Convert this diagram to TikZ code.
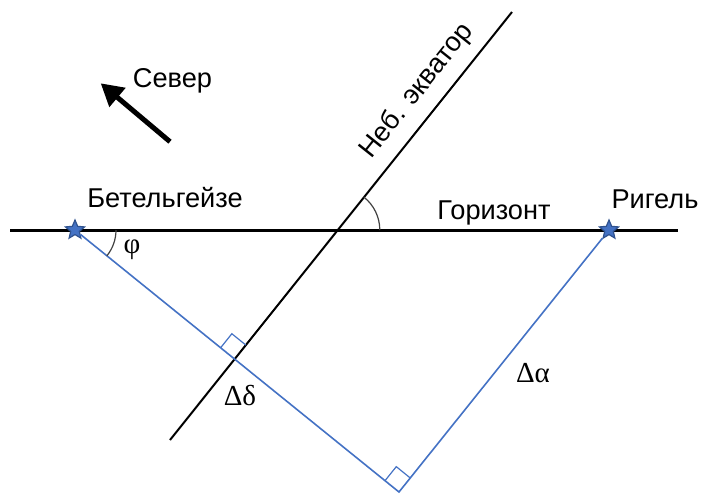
\documentclass[tikz,border=0pt]{standalone}
\usepackage{fontspec}
\setmainfont{Liberation Sans}
\newfontfamily\grk{Liberation Serif}
\usepackage{xcolor}
\usetikzlibrary{arrows.meta, positioning, shapes.geometric, calc}
\definecolor{skyblue}{HTML}{4472C4}
\definecolor{deepblue}{HTML}{2F528F}

\begin{document}
\begin{tikzpicture}[
      x=0.5pt, y=-0.5pt,
      every node/.style={font=\fontsize{13.6}{16}\selectfont, inner sep=0pt},
      starmark/.style={star, star points=5, star point ratio=2.2, minimum size=10pt, fill=skyblue, draw=deepblue, line width=0.6pt},
      sight/.style={draw=skyblue, line width=0.8pt},
      rmark/.style={draw=skyblue, line width=0.6pt},
      anglearc/.style={draw=black!75, line width=0.6pt},
      greek/.style={font=\grk\fontsize{14.5}{16}\selectfont}
    ]
      \useasboundingbox (0,0) rectangle (702,495);

      % horizon and celestial equator
      \coordinate (hL) at (10,230);
      \coordinate (hR) at (678,230);
      \coordinate (eqB) at (170,440);
      \coordinate (eqT) at (512,12);
      \coordinate (O) at (337.8,230);
      \draw[line width=1.5pt] (hL) -- (hR);
      \draw[line width=1pt] (eqB) -- (eqT);

      % stars
      \node[starmark] (bet) at (75,230) {};
      \node[starmark] (rig) at (609,230) {};

      % sight lines
      \coordinate (V) at (399,492);
      \coordinate (F) at (234.6,359.1);
      \draw[sight] (bet) -- (V) -- (rig);
      \draw[rmark] ($(F)!9pt!(bet)$) -- ($(F)!9pt!(bet) + (F)!9pt!(eqT) - (F)$) -- ($(F)!9pt!(eqT)$);
      \draw[rmark] ($(V)!9pt!(bet)$) -- ($(V)!9pt!(bet) + (V)!9pt!(rig) - (V)$) -- ($(V)!9pt!(rig)$);

      % angles
      \draw[anglearc] ($(O)+(21pt,0)$) arc[start angle=0, end angle=51.4, radius=21pt];
      \draw[anglearc] ($(bet.center)+(20.5pt,0)$) arc[start angle=0, end angle=-39, radius=20.5pt];

      % north
      \coordinate (nS) at (170,141.7);
      \coordinate (nE) at (100.7,83.3);
      \draw[line width=2.5pt, -{Triangle[length=11pt, width=12pt]}] (nS) -- (nE);

      % labels
      \node[anchor=base] (sever) at (172.5,87) {Север};
      \node[anchor=base] (betlab) at (165,207) {Бетельгейзе};
      \node[anchor=base] (riglab) at (655,208) {Ригель};
      \node[anchor=base] (horlab) at (494,219) {Горизонт};
      \node[anchor=base, rotate=51.4] (eqlab) at (422.5,95.5) {Неб. экватор};
      \node[greek] (phi) at (132,250) {φ};
      \node[greek] (ddelta) at (240,395) {Δδ};
      \node[greek] (dalpha) at (533,373) {Δα};
    \end{tikzpicture}
\end{document}
